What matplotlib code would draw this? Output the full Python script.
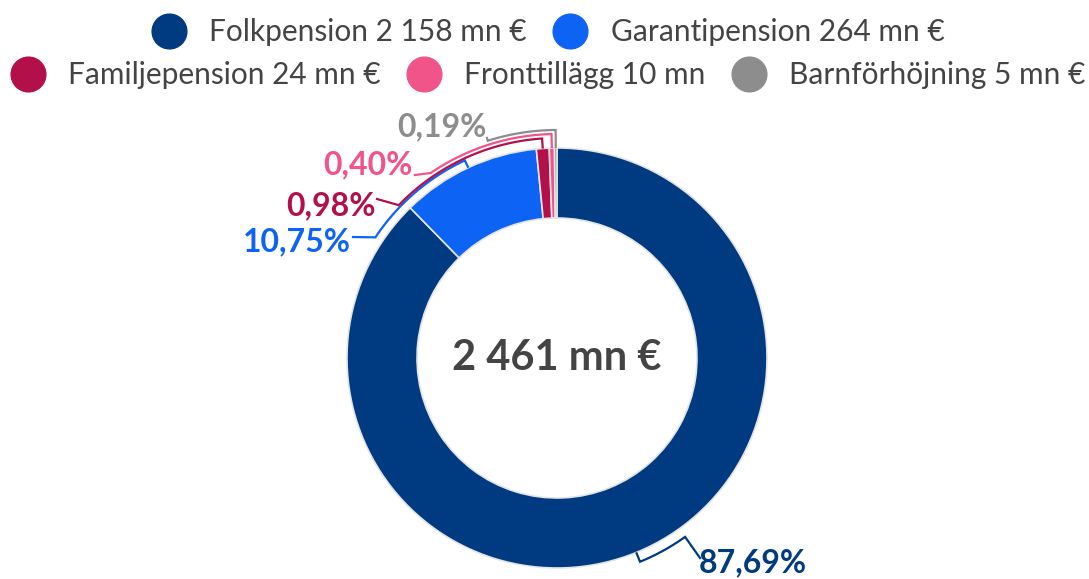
import matplotlib.pyplot as plt
from matplotlib.lines import Line2D
import numpy as np

plt.rcParams['font.family'] = ['Lato', 'DejaVu Sans']

names = ["Folkpension", "Garantipension", "Familjepension", "Fronttillägg", "Barnförhöjning"]
amounts = [2158, 264, 24, 10, 5]
units = ["mn €", "mn €", "mn €", "mn", "mn €"]
shares = [87.69, 10.75, 0.98, 0.40, 0.19]
colors = ["#003a80", "#0d63f3", "#b3104a", "#f05488", "#8d8d8d"]


def fmt_int(n):
    return f"{n:,}".replace(",", " ")


W, H = 1089, 579
fig = plt.figure(figsize=(W / 100, H / 100), dpi=100)
ax = fig.add_axes([0, 0, 1, 1])

cx, cy = 557, H - 358
R = 210
wedges, _ = ax.pie(shares, colors=colors, startangle=90, counterclock=False,
                   radius=R, center=(cx, cy),
                   wedgeprops=dict(width=70, edgecolor="#e4e4e4", linewidth=1.2))
ax.set_xlim(0, W)
ax.set_ylim(0, H)
ax.set_aspect("equal")
ax.axis("off")

# leader lines: tick at wedge middle, arc outside the ring, then to label
arc_r = [220, 218, 220, 224, 228]
arc_end = [-54.4, 146.4, 136.0, 124.3, 107.7]
label_pt = [(700, 558), (353, 237), (377, 199), (415, 175), (487, 138)]
text_pt = [(699, 563), (351, 242), (376, 206), (413, 165), (487, 127)]
text_ha = ["left", "right", "right", "right", "right"]

for w, r, a_end, lp, tp, ha, col, s in zip(wedges, arc_r, arc_end, label_pt,
                                              text_pt, text_ha, colors, shares):
    mid = (w.theta1 + w.theta2) / 2
    d = (a_end - mid + 180) % 360 - 180
    t = np.radians(np.linspace(mid, mid + d, 60))
    xs = [cx + (R + 1) * np.cos(t[0])] + list(cx + r * np.cos(t)) + [lp[0]]
    ys = [cy + (R + 1) * np.sin(t[0])] + list(cy + r * np.sin(t)) + [H - lp[1]]
    ax.plot(xs, ys, color=col, lw=1.6, solid_joinstyle="miter")
    ax.text(tp[0], H - tp[1], f"{s:.2f}".replace(".", ",") + "%", color=col,
            fontsize=23, fontweight="bold", ha=ha, va="center")

ax.text(cx, cy, f"{fmt_int(sum(amounts))} mn €", color="#444444", fontsize=30,
        fontweight="bold", ha="center", va="center")

handles = [Line2D([], [], marker="o", ls="", markersize=25, color=c) for c in colors]
labels = [f"{n} {fmt_int(a)} {u}" for n, a, u in zip(names, amounts, units)]
leg_kw = dict(frameon=False, fontsize=21.5, handletextpad=0.75, columnspacing=0.85,
              labelcolor="#444444", borderaxespad=0, handlelength=1.2)
fig.legend(handles[:2], labels[:2], ncol=2, loc="center",
           bbox_to_anchor=(0.503, 1 - 32 / H), **leg_kw)
fig.legend(handles[2:], labels[2:], ncol=3, loc="center",
           bbox_to_anchor=(0.503, 1 - 75 / H), **leg_kw)

fig.savefig("out.png", dpi=100)
